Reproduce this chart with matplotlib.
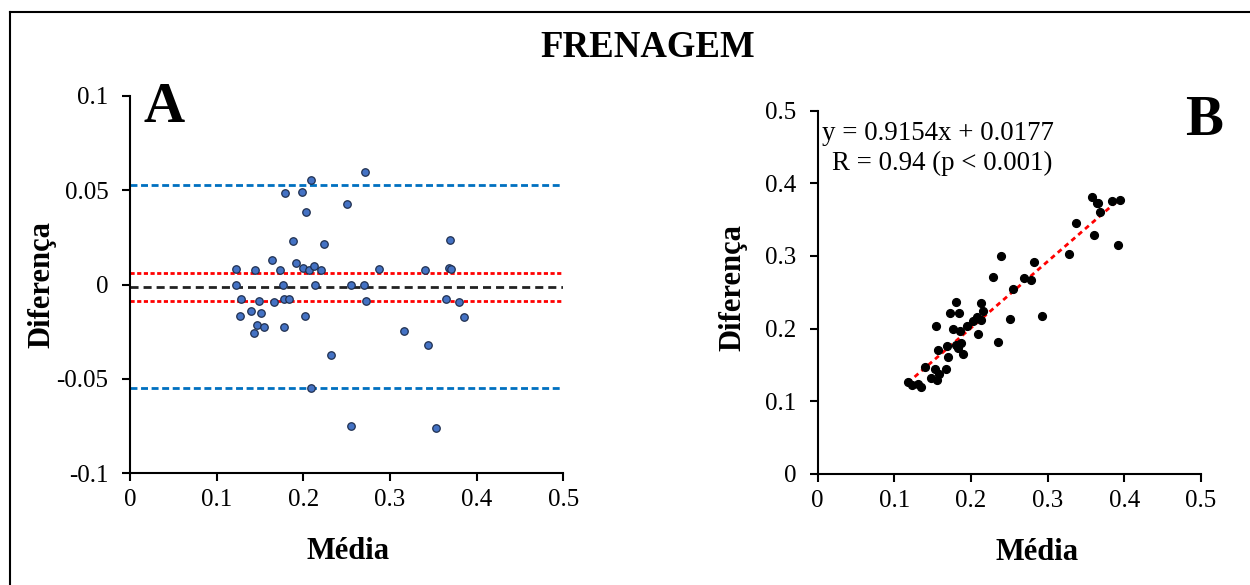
import matplotlib
matplotlib.use("Agg")
import matplotlib.pyplot as plt
import numpy as np

plt.rcParams["font.family"] = ["Liberation Serif", "DejaVu Serif"]

# Panel A: Bland-Altman (media x diferenca)
media_a = [0.122, 0.122, 0.128, 0.127, 0.144, 0.140, 0.149, 0.151, 0.146, 0.143,
           0.155, 0.164, 0.166, 0.173, 0.176, 0.178, 0.183, 0.178, 0.179, 0.188,
           0.192, 0.200, 0.198, 0.203, 0.209, 0.202, 0.207, 0.212, 0.213, 0.209,
           0.220, 0.224, 0.2315, 0.271, 0.250, 0.255, 0.270, 0.2725, 0.2875, 0.255,
           0.3157, 0.344, 0.341, 0.3526, 0.3694, 0.368, 0.370, 0.3645, 0.380, 0.3856]
dif_a = [0.0084, 0.0, -0.0075, -0.0166, 0.0076, -0.0140, -0.0085, -0.0151, -0.0214, -0.0258,
         -0.0225, 0.0132, -0.0092, 0.0079, 0.0, -0.0075, -0.0075, -0.0225, 0.0487, 0.0233,
         0.0113, 0.0086, 0.0493, 0.0383, 0.0555, -0.0166, 0.0076, 0.0097, 0.0, -0.0548,
         0.0077, 0.0214, -0.0372, 0.0599, 0.0426, 0.0, 0.0, -0.0085, 0.0084, -0.0748,
         -0.0244, -0.0319, 0.0079, -0.0762, 0.0235, 0.0088, 0.0083, -0.0078, -0.0092, -0.0173]

bias = -0.0011
ic_sup, ic_inf = 0.0063, -0.0087
lim_sup, lim_inf = 0.0528, -0.0548

# Panel B: correlacao
x_b = [0.1175, 0.1227, 0.1305, 0.1352, 0.1405, 0.1475, 0.1531, 0.1557, 0.1587, 0.1574,
       0.1544, 0.1675, 0.1705, 0.1684, 0.1762, 0.1727, 0.1809, 0.1841, 0.1805, 0.1832,
       0.1867, 0.1893, 0.1858, 0.1949, 0.2031, 0.2076, 0.2128, 0.2162, 0.2136, 0.2097,
       0.2350, 0.2507, 0.2289, 0.2397, 0.2546, 0.2689, 0.2781, 0.2828, 0.2924, 0.3281,
       0.3376, 0.3581, 0.3642, 0.3663, 0.3681, 0.3846, 0.3947, 0.3607, 0.3916]
y_b = [0.1264, 0.1227, 0.1241, 0.1190, 0.1470, 0.1324, 0.1443, 0.1288, 0.1375, 0.1700,
       0.2036, 0.1443, 0.1613, 0.1764, 0.1994, 0.2219, 0.2370, 0.2219, 0.1778, 0.1733,
       0.1798, 0.1654, 0.1971, 0.2040, 0.2109, 0.2164, 0.2118, 0.2247, 0.2353, 0.1926,
       0.1811, 0.2136, 0.2707, 0.2996, 0.2545, 0.2693, 0.2674, 0.2921, 0.2169, 0.3032,
       0.3455, 0.3809, 0.3734, 0.3734, 0.3606, 0.3758, 0.3771, 0.3289, 0.3147]
slope, intercept = 0.9154, 0.0177

ticks_a_y = [-0.1, -0.05, 0, 0.05, 0.1]
labels_a_y = ["-0.1", "-0.05", "0", "0.05", "0.1"]
ticks_x = [0, 0.1, 0.2, 0.3, 0.4, 0.5]
labels_x = ["0", "0.1", "0.2", "0.3", "0.4", "0.5"]


def style_axis(ax):
    for side in ["top", "right"]:
        ax.spines[side].set_visible(False)
    for side in ["left", "bottom"]:
        ax.spines[side].set_linewidth(1.5)
    ax.tick_params(axis="both", direction="out", length=5.5, width=1.5, labelsize=18)
    ax.tick_params(axis="y", pad=10)
    ax.tick_params(axis="x", pad=6)


fig = plt.figure(figsize=(12.5, 5.85), dpi=100)

# moldura (so esquerda e topo aparecem)
fig.add_artist(plt.Line2D([0.008, 0.008], [0, 0.9795], color="black", lw=1.5))
fig.add_artist(plt.Line2D([0.008, 1.0], [0.9795, 0.9795], color="black", lw=1.5))

ax_a = fig.add_axes([0.104, 0.1909, 0.3466, 0.645])
ax_a.axhline(lim_sup, color="#0070C0", lw=2.0, ls=(0, (2.5, 1.3)))
ax_a.axhline(lim_inf, color="#0070C0", lw=2.0, ls=(0, (2.5, 1.3)))
ax_a.axhline(ic_sup, color="#FF0000", lw=2.0, ls=(0, (1.5, 0.9)))
ax_a.axhline(ic_inf, color="#FF0000", lw=2.0, ls=(0, (1.5, 0.9)))
ax_a.axhline(bias, color="#222222", lw=2.0, ls=(0, (2.9, 1.8)))
ax_a.plot(media_a, dif_a, "o", ms=5.4, mfc="#4472C4", mec="#1F2F4F", mew=0.9,
          zorder=3, clip_on=False)
ax_a.set_xlim(0, 0.5)
ax_a.set_ylim(-0.1, 0.1)
ax_a.set_xticks(ticks_x)
ax_a.set_xticklabels(labels_x)
ax_a.set_yticks(ticks_a_y)
ax_a.set_yticklabels(labels_a_y)
style_axis(ax_a)

ax_b = fig.add_axes([0.6542, 0.1901, 0.3064, 0.6207])
xs = np.array([min(x_b), max(x_b)])
ax_b.plot(xs, slope * xs + intercept, color="#FF0000", lw=2.0, ls=(0, (1.8, 1.45)), zorder=2)
ax_b.plot(x_b, y_b, "o", ms=5.6, color="black", zorder=3)
ax_b.set_xlim(0, 0.5)
ax_b.set_ylim(0, 0.5)
ax_b.set_xticks(ticks_x)
ax_b.set_xticklabels(labels_x)
ax_b.set_yticks(ticks_x)
ax_b.set_yticklabels(labels_x)
style_axis(ax_b)

fig.text(0.5184, 0.918, "FRENAGEM", ha="center", va="center", fontsize=26.5, fontweight="bold")
fig.text(0.1152, 0.7915, "A", ha="left", va="baseline", fontsize=41, fontweight="bold")
fig.text(0.948, 0.7692, "B", ha="left", va="baseline", fontsize=41, fontweight="bold")

fig.text(0.0332, 0.5145, "Diferença", rotation=90, ha="center", va="center",
         fontsize=22, fontweight="bold")
fig.text(0.2784, 0.058, "Média", ha="center", va="center", fontsize=22, fontweight="bold")
fig.text(0.5864, 0.5077, "Diferença", rotation=90, ha="center", va="center",
         fontsize=22, fontweight="bold")
fig.text(0.8296, 0.0564, "Média", ha="center", va="center", fontsize=22, fontweight="bold")

fig.text(0.6574, 0.7607, "y = 0.9154x + 0.0177", ha="left", va="baseline", fontsize=19.4)
fig.text(0.6654, 0.7094, "R = 0.94 (p < 0.001)", ha="left", va="baseline", fontsize=19.4)

fig.savefig("out.png", dpi=100)
